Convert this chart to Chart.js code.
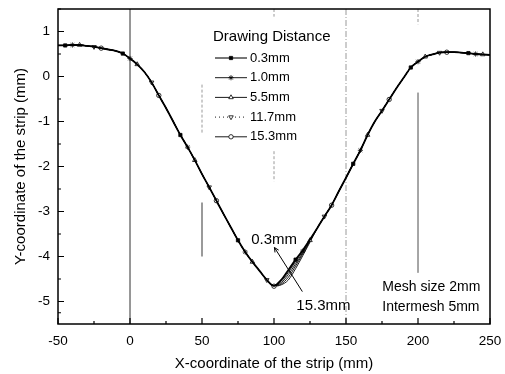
<!DOCTYPE html>
<html>
<head>
<meta charset="utf-8">
<script src="https://cdn.jsdelivr.net/npm/chart.js@4/dist/chart.umd.min.js"></script>
<style>
  html, body { margin: 0; padding: 0; background: #fff; }
  #wrap { width: 505px; height: 374px; }
</style>
</head>
<body>
<div id="wrap"><canvas id="chart"></canvas></div>
<script>
"use strict";

// X positions of the strip (mm), shared by every curve
const xValues = [
  -50, -45, -40, -35, -30, -25, -20, -15, -10, -5,
  0, 5, 10, 15, 20, 25, 30, 35, 40, 45,
  50, 55, 60, 65, 70, 75, 80, 85, 90, 95,
  100, 105, 110, 115, 120, 125, 130, 135, 140, 145,
  150, 155, 160, 165, 170, 175, 180, 185, 190, 195,
  200, 205, 210, 215, 220, 225, 230, 235, 240, 245, 250
];

// Y coordinate of the strip (mm) for each drawing distance
const y03 = [
  0.69, 0.69, 0.70, 0.70, 0.68, 0.66, 0.63, 0.60, 0.57, 0.51,
  0.40, 0.27, 0.10, -0.13, -0.42, -0.70, -1.00, -1.30, -1.57, -1.86,
  -2.17, -2.46, -2.76, -3.06, -3.35, -3.64, -3.90, -4.12, -4.32, -4.52,
  -4.65, -4.52, -4.30, -4.07, -3.86, -3.62, -3.37, -3.11, -2.86, -2.55,
  -2.25, -1.94, -1.64, -1.30, -1.00, -0.76, -0.51, -0.26, -0.03, 0.20,
  0.33, 0.44, 0.49, 0.53, 0.54, 0.54, 0.53, 0.52, 0.50, 0.49, 0.48
];
const y10 = [
  0.69, 0.69, 0.70, 0.70, 0.68, 0.66, 0.63, 0.60, 0.57, 0.51,
  0.40, 0.27, 0.10, -0.13, -0.42, -0.70, -1.00, -1.30, -1.57, -1.86,
  -2.17, -2.46, -2.76, -3.06, -3.35, -3.64, -3.90, -4.12, -4.32, -4.52,
  -4.65, -4.55, -4.35, -4.11, -3.88, -3.63, -3.37, -3.11, -2.86, -2.55,
  -2.25, -1.94, -1.64, -1.30, -1.00, -0.76, -0.51, -0.26, -0.03, 0.20,
  0.33, 0.44, 0.49, 0.53, 0.54, 0.54, 0.53, 0.52, 0.50, 0.49, 0.48
];
const y55 = [
  0.69, 0.69, 0.70, 0.70, 0.68, 0.66, 0.63, 0.60, 0.57, 0.51,
  0.40, 0.27, 0.10, -0.13, -0.42, -0.70, -1.00, -1.30, -1.57, -1.86,
  -2.17, -2.46, -2.76, -3.06, -3.35, -3.64, -3.90, -4.12, -4.32, -4.52,
  -4.65, -4.58, -4.40, -4.16, -3.91, -3.64, -3.37, -3.11, -2.86, -2.55,
  -2.25, -1.94, -1.64, -1.30, -1.00, -0.76, -0.51, -0.26, -0.03, 0.20,
  0.33, 0.44, 0.49, 0.53, 0.54, 0.54, 0.53, 0.52, 0.50, 0.49, 0.48
];
const y117 = [
  0.69, 0.69, 0.70, 0.70, 0.68, 0.66, 0.63, 0.60, 0.57, 0.51,
  0.40, 0.27, 0.10, -0.13, -0.42, -0.70, -1.00, -1.30, -1.57, -1.86,
  -2.17, -2.46, -2.76, -3.06, -3.35, -3.64, -3.90, -4.12, -4.32, -4.52,
  -4.65, -4.61, -4.46, -4.21, -3.94, -3.66, -3.37, -3.11, -2.86, -2.55,
  -2.25, -1.94, -1.64, -1.30, -1.00, -0.76, -0.51, -0.26, -0.03, 0.20,
  0.33, 0.44, 0.49, 0.53, 0.54, 0.54, 0.53, 0.52, 0.50, 0.49, 0.48
];
const y153 = [
  0.69, 0.69, 0.70, 0.70, 0.68, 0.66, 0.63, 0.60, 0.57, 0.51,
  0.40, 0.27, 0.10, -0.13, -0.42, -0.70, -1.00, -1.30, -1.57, -1.86,
  -2.17, -2.46, -2.76, -3.06, -3.35, -3.64, -3.90, -4.12, -4.32, -4.52,
  -4.66, -4.63, -4.52, -4.27, -3.98, -3.68, -3.37, -3.11, -2.86, -2.55,
  -2.25, -1.94, -1.64, -1.30, -1.00, -0.76, -0.51, -0.26, -0.03, 0.20,
  0.33, 0.44, 0.49, 0.53, 0.54, 0.54, 0.53, 0.52, 0.50, 0.49, 0.48
];

const seriesLabels = ["0.3mm", "1.0mm", "5.5mm", "11.7mm", "15.3mm"];

// Tick labels
const xTicks = [-50, 0, 50, 100, 150, 200, 250];
const yTicks = [-5, -4, -3, -2, -1, 0, 1];

// Vertical mesh marks seen in the figure: x, top y, bottom y
const meshX      = [0, 50, 50, 100, 100, 150, 200, 200];
const meshTop    = [1.5, -0.18, -2.8, 1.5, -1.66, 1.5, 1.5, -0.36];
const meshBottom = [-5.5, -1.29, -4.0, 1.33, -2.33, -5.5, 1.16, -4.36];

// Text notes and the arrow across the curves (data units)
const noteText = ["0.3mm", "15.3mm", "Mesh size 2mm", "Intermesh 5mm"];
const noteX    = [84.2, 115.5, 175.2, 175.2];
const noteY    = [-3.62, -5.09, -4.67, -5.13];
const arrowFrom = { x: 100.3, y: -3.80 };
const arrowTo   = { x: 119.7, y: -4.78 };

// Marker styles per series (every 8th point, shifted per series)
const markerStyle = [
  { pointStyle: 'rect',     radius: 2.3, rotation: 0,   fill: '#000', shift: 1, line: '#000', width: 1.8 },
  { pointStyle: 'star',     radius: 2.6, rotation: 0,   fill: '#fff', shift: 2, line: '#000', width: 0.9 },
  { pointStyle: 'triangle', radius: 2.6, rotation: 0,   fill: '#fff', shift: 3, line: '#000', width: 0.9 },
  { pointStyle: 'triangle', radius: 2.6, rotation: 180, fill: '#fff', shift: 5, line: '#000', width: 0.9 },
  { pointStyle: 'circle',   radius: 2.2, rotation: 0,   fill: '#fff', shift: 6, line: '#000', width: 0.9 }
];

const seriesValues = [y03, y10, y55, y117, y153];

const curveSets = seriesValues.map((ys, s) => {
  const m = markerStyle[s];
  return {
    label: seriesLabels[s],
    data: xValues.map((x, i) => ({ x: x, y: ys[i] })),
    borderColor: m.line,
    borderWidth: m.width,
    backgroundColor: m.fill,
    pointBorderColor: '#000',
    pointBorderWidth: 0.8,
    pointStyle: m.pointStyle,
    pointRotation: m.rotation,
    pointRadius: (ctx) => (ctx.dataIndex % 8 === m.shift ? m.radius : 0),
    pointHoverRadius: 0,
    cubicInterpolationMode: 'monotone',
    order: s
  };
});

const meshSets = meshX.map((x, i) => ({
  label: 'mesh',
  data: [{ x: x, y: meshTop[i] }, { x: x, y: meshBottom[i] }],
  borderColor: i === 0 ? '#888' : '#9a9a9a',
  borderWidth: i === 2 ? 2 : 1,
  borderDash: (i === 1 || i === 3 || i === 4 || i === 6) ? [3, 2] : (i === 5 ? [6, 2, 1, 2] : []),
  pointRadius: 0,
  order: 20
}));

// Frame, inward ticks, legend box and notes
const decorPlugin = {
  id: 'decor',
  afterDraw(chart) {
    const { ctx, chartArea: a, scales } = chart;
    const xs = scales.x, ys = scales.y;
    ctx.save();

    ctx.strokeStyle = '#000';
    ctx.lineWidth = 1.5;
    ctx.strokeRect(a.left, a.top, a.right - a.left, a.bottom - a.top);

    // inward ticks, major on labels and minor halfway between
    ctx.lineWidth = 1.2;
    ctx.beginPath();
    xTicks.forEach((v, i) => {
      const px = xs.getPixelForValue(v);
      ctx.moveTo(px, a.bottom); ctx.lineTo(px, a.bottom - 6);
      if (i < xTicks.length - 1) {
        const mx = xs.getPixelForValue((v + xTicks[i + 1]) / 2);
        ctx.moveTo(mx, a.bottom); ctx.lineTo(mx, a.bottom - 3);
      }
    });
    const yAll = [-5.5].concat(yTicks);
    yAll.forEach((v, i) => {
      const py = ys.getPixelForValue(v);
      if (Number.isInteger(v)) { ctx.moveTo(a.left, py); ctx.lineTo(a.left + 6, py); }
      if (i < yAll.length - 1) {
        const mid = (v + yAll[i + 1]) / 2;
        if (!Number.isInteger(mid)) {
          const my = ys.getPixelForValue(mid);
          ctx.moveTo(a.left, my); ctx.lineTo(a.left + 3, my);
        }
      }
    });
    const topMinor = ys.getPixelForValue(1.5);
    ctx.moveTo(a.left, topMinor); ctx.lineTo(a.left + 3, topMinor);
    ctx.stroke();

    // legend
    ctx.fillStyle = '#000';
    ctx.textBaseline = 'middle';
    ctx.textAlign = 'left';
    ctx.font = '15px "Liberation Sans", Arial, sans-serif';
    ctx.fillText('Drawing Distance', a.left + 155, a.top + 28);
    ctx.font = '13px "Liberation Sans", Arial, sans-serif';
    seriesLabels.forEach((lab, s) => {
      const m = markerStyle[s];
      const cy = a.top + 49 + s * 19.7;
      ctx.strokeStyle = s === 0 ? '#777' : '#000';
      ctx.lineWidth = s === 0 ? 2 : 0.9;
      ctx.setLineDash(s === 3 ? [1, 3] : []);
      ctx.beginPath();
      ctx.moveTo(a.left + 157, cy); ctx.lineTo(a.left + 189, cy);
      ctx.stroke();
      ctx.setLineDash([]);
      ctx.strokeStyle = '#000';
      ctx.fillStyle = m.fill;
      ctx.lineWidth = 0.8;
      Chart.helpers.drawPoint(ctx, {
        pointStyle: m.pointStyle, radius: m.radius, rotation: m.rotation, borderWidth: 0.8
      }, a.left + 173, cy);
      ctx.fillStyle = '#000';
      ctx.fillText(lab, a.left + 192, cy);
    });

    // notes
    noteText.forEach((t, i) => {
      ctx.font = (i < 2 ? '15px' : '14px') + ' "Liberation Sans", Arial, sans-serif';
      ctx.fillText(t, xs.getPixelForValue(noteX[i]), ys.getPixelForValue(noteY[i]));
    });

    // arrow across the curves
    const x0 = xs.getPixelForValue(arrowFrom.x), y0 = ys.getPixelForValue(arrowFrom.y);
    const x1 = xs.getPixelForValue(arrowTo.x), y1 = ys.getPixelForValue(arrowTo.y);
    ctx.strokeStyle = '#000';
    ctx.lineWidth = 1;
    ctx.beginPath();
    ctx.moveTo(x0, y0); ctx.lineTo(x1, y1);
    const ang = Math.atan2(y0 - y1, x0 - x1);
    ctx.moveTo(x0, y0); ctx.lineTo(x0 - 5 * Math.cos(ang - 0.45), y0 - 5 * Math.sin(ang - 0.45));
    ctx.moveTo(x0, y0); ctx.lineTo(x0 - 5 * Math.cos(ang + 0.45), y0 - 5 * Math.sin(ang + 0.45));
    ctx.stroke();

    ctx.restore();
  }
};

const tickFont = { family: '"Liberation Sans", Arial, sans-serif', size: 13.5 };
const titleFont = { family: '"Liberation Sans", Arial, sans-serif', size: 15 };

const chart = new Chart(document.getElementById('chart').getContext('2d'), {
  type: 'line',
  data: { datasets: meshSets.concat(curveSets) },
  options: {
    responsive: true,
    maintainAspectRatio: false,
    animation: false,
    layout: { padding: { top: 9, right: 15, left: 0, bottom: 0 } },
    plugins: {
      legend: { display: false },
      tooltip: { enabled: false }
    },
    scales: {
      x: {
        type: 'linear',
        min: -50,
        max: 250,
        grid: { display: false, drawTicks: false },
        border: { display: false },
        afterBuildTicks: (scale) => { scale.ticks = xTicks.map(v => ({ value: v })); },
        afterFit: (scale) => {
          scale.height = 50;
          scale.paddingLeft = 0;
          scale.paddingRight = 0;
        },
        ticks: { color: '#000', font: tickFont, padding: 9, maxRotation: 0, callback: (v) => String(v) },
        title: {
          display: true,
          text: 'X-coordinate of the strip (mm)',
          color: '#000',
          font: titleFont,
          padding: { top: 0, bottom: 1 }
        }
      },
      y: {
        type: 'linear',
        min: -5.5,
        max: 1.5,
        grid: { display: false, drawTicks: false },
        border: { display: false },
        afterBuildTicks: (scale) => { scale.ticks = yTicks.map(v => ({ value: v })); },
        afterFit: (scale) => {
          scale.width = 58;
          scale.paddingTop = 0;
          scale.paddingBottom = 0;
        },
        ticks: { color: '#000', font: tickFont, padding: 8, callback: (v) => String(v) },
        title: {
          display: true,
          text: 'Y-coordinate of the strip (mm)',
          color: '#000',
          font: titleFont,
          padding: { top: 12, bottom: 0 }
        }
      }
    }
  },
  plugins: [decorPlugin]
});
</script>
</body>
</html>
